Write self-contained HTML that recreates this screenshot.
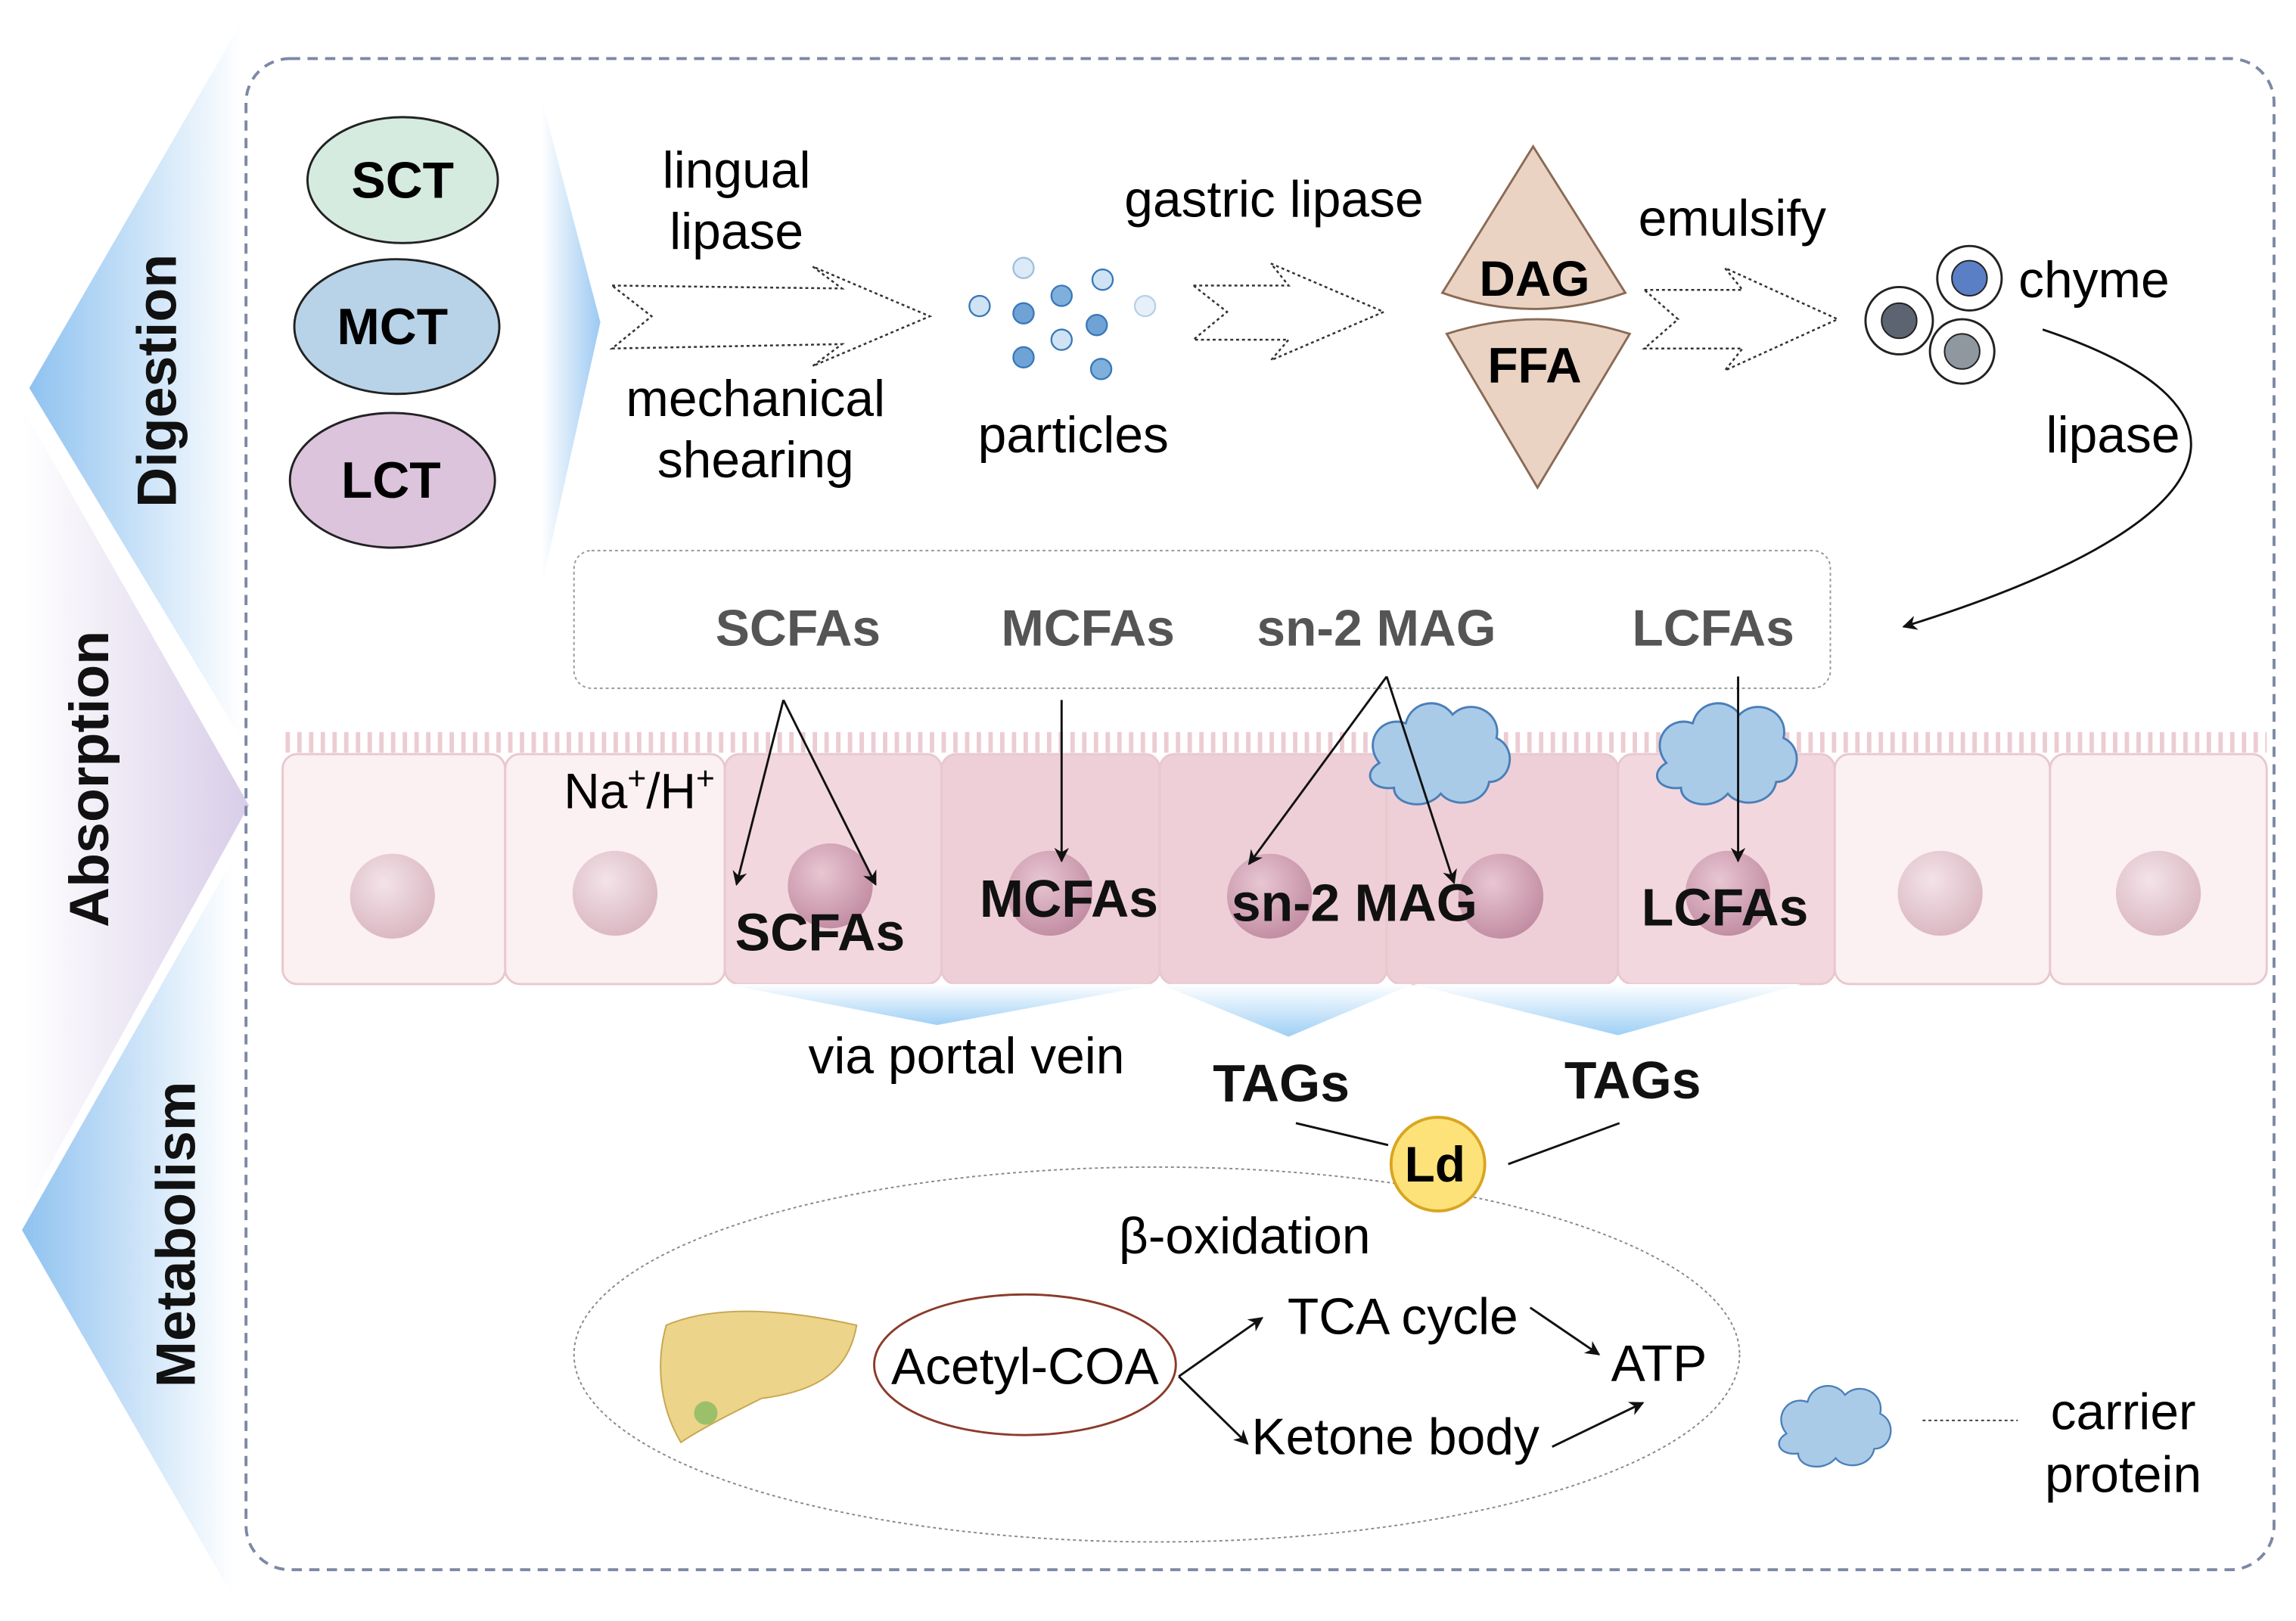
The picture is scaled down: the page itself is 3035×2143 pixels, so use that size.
<!DOCTYPE html>
<html><head><meta charset="utf-8"><style>
html,body{margin:0;padding:0;background:#fff;}
svg{display:block;}
text{font-family:"Liberation Sans",Arial,sans-serif;}
</style></head><body>
<svg width="3035" height="2143" viewBox="0 0 1568 1107" preserveAspectRatio="none" xmlns="http://www.w3.org/2000/svg">
<defs>
<linearGradient id="gb" x1="0" x2="1" y1="0" y2="0"><stop offset="0" stop-color="#8fc2f0"/><stop offset="1" stop-color="#ffffff"/></linearGradient>
<linearGradient id="gp" x1="0" x2="1" y1="0" y2="0"><stop offset="0" stop-color="#ffffff"/><stop offset="1" stop-color="#d8cde8"/></linearGradient>
<linearGradient id="gc" x1="0" x2="1"><stop offset="0" stop-color="#ffffff"/><stop offset="1" stop-color="#9cc9f2"/></linearGradient>
<linearGradient id="gv" x1="0" x2="0" y1="0" y2="1"><stop offset="0" stop-color="#ffffff"/><stop offset="1" stop-color="#9fd0f5"/></linearGradient>
<radialGradient id="nuc" cx="0.4" cy="0.35" r="0.7"><stop offset="0" stop-color="#f3e3e8"/><stop offset="1" stop-color="#d9b5c0"/></radialGradient>
<radialGradient id="nuc2" cx="0.4" cy="0.35" r="0.7"><stop offset="0" stop-color="#e8c6d2"/><stop offset="1" stop-color="#c08aa0"/></radialGradient>
<marker id="ar" markerWidth="10" markerHeight="10" refX="9" refY="5" orient="auto" markerUnits="userSpaceOnUse"><path d="M0,0 L10,5 L0,10 L3,5 z" fill="#111"/></marker>
<g id="cloud"><path d="M-40,5 C-52,-10 -38,-28 -22,-22 C-18,-38 2,-40 10,-28 C22,-40 44,-30 40,-12 C55,-5 50,18 35,18 C32,34 10,36 2,26 C-8,38 -30,34 -30,22 C-46,24 -52,12 -40,5 z" fill="#aacbe8" stroke="#4a7fb8" stroke-width="1.5"/></g>
</defs>

<polygon points="165,15 20,265 165,505" fill="url(#gb)"/>
<polygon points="15,278 170,550 15,830" fill="url(#gp)"/>
<polygon points="160,585 15,840 160,1092" fill="url(#gb)"/>
<text transform="translate(120,260) rotate(-90)" font-size="38" font-weight="bold" text-anchor="middle" fill="#111">Digestion</text>
<text transform="translate(74,532) rotate(-90)" font-size="38" font-weight="bold" text-anchor="middle" fill="#111">Absorption</text>
<text transform="translate(133,843) rotate(-90)" font-size="38" font-weight="bold" text-anchor="middle" fill="#111">Metabolism</text>

<rect x="168" y="40" width="1385" height="1032" rx="30" fill="none" stroke="#7d88a6" stroke-width="2" stroke-dasharray="7,5"/>

<ellipse cx="275" cy="123" rx="65" ry="43" fill="#d5ebdf" stroke="#222" stroke-width="1.5"/>
<text x="275" y="135" font-size="35" font-weight="bold" text-anchor="middle">SCT</text>
<ellipse cx="271" cy="223" rx="70" ry="46" fill="#b8d3e8" stroke="#222" stroke-width="1.5"/>
<text x="268" y="235" font-size="35" font-weight="bold" text-anchor="middle">MCT</text>
<ellipse cx="268" cy="328" rx="70" ry="46" fill="#dcc4dd" stroke="#222" stroke-width="1.5"/>
<text x="267" y="340" font-size="35" font-weight="bold" text-anchor="middle">LCT</text>

<polygon points="370,68 410,220 370,400" fill="url(#gc)"/>

<g fill="none" stroke="#333" stroke-width="1.3" stroke-dasharray="2,2">
<path d="M418,195 L575,197 L555,182 L635,216 L555,250 L575,235 L418,238 L445,216 z"/>
<path d="M815,195 L880,195 L868,180 L945,213 L868,246 L880,232 L815,232 L838,213 z"/>
<path d="M1123,198 L1190,198 L1178,183 L1255,218 L1178,253 L1190,238 L1123,238 L1146,218 z"/>
</g>
<g font-size="35" text-anchor="middle">
<text x="503" y="128">lingual</text>
<text x="503" y="170">lipase</text>
<text x="516" y="284">mechanical</text>
<text x="516" y="326">shearing</text>
<text x="733" y="309">particles</text>
<text x="870" y="148">gastric lipase</text>
<text x="1183" y="161">emulsify</text>
<text x="1430" y="203">chyme</text>
<text x="1443" y="309">lipase</text>
</g>

<g stroke="#3a78b8" stroke-width="1.2">
<circle cx="699" cy="183" r="7" fill="#dbeaf6" stroke="#9cc0e0"/>
<circle cx="753" cy="191" r="7" fill="#cfe3f4"/>
<circle cx="669" cy="209" r="7" fill="#cfe3f4"/>
<circle cx="725" cy="202" r="7" fill="#7fb0dc"/>
<circle cx="699" cy="214" r="7" fill="#6fa3d6"/>
<circle cx="782" cy="209" r="7" fill="#e6f0f9" stroke="#b8d0e8"/>
<circle cx="749" cy="222" r="7" fill="#6fa3d6"/>
<circle cx="725" cy="232" r="7" fill="#cfe3f4"/>
<circle cx="699" cy="244" r="7" fill="#6fa3d6"/>
<circle cx="752" cy="252" r="7" fill="#7fb0dc"/>
</g>

<path d="M1047,100 L1110,200 Q1047,222 985,200 z" fill="#ead3c3" stroke="#8a6a55" stroke-width="1.5"/>
<path d="M988,228 Q1050,208 1113,228 L1050,333 z" fill="#ead3c3" stroke="#8a6a55" stroke-width="1.5"/>
<text x="1048" y="202" font-size="34" font-weight="bold" text-anchor="middle">DAG</text>
<text x="1048" y="261" font-size="34" font-weight="bold" text-anchor="middle">FFA</text>

<circle cx="1297" cy="219" r="23" fill="#fff" stroke="#222" stroke-width="1.5"/><circle cx="1297" cy="219" r="12" fill="#5b6470" stroke="#222"/>
<circle cx="1345" cy="190" r="22" fill="#fff" stroke="#222" stroke-width="1.5"/><circle cx="1345" cy="190" r="12" fill="#5a7fc4" stroke="#222"/>
<circle cx="1340" cy="240" r="22" fill="#fff" stroke="#222" stroke-width="1.5"/><circle cx="1340" cy="240" r="12" fill="#8f979f" stroke="#222"/>
<path d="M1395,225 C1560,280 1520,360 1300,428" fill="none" stroke="#111" stroke-width="1.5" marker-end="url(#ar)"/>

<rect x="392" y="376" width="858" height="94" rx="12" fill="none" stroke="#999" stroke-width="1" stroke-dasharray="2,2"/>
<g font-size="35" font-weight="bold" fill="#555" text-anchor="middle">
<text x="545" y="441">SCFAs</text><text x="743" y="441">MCFAs</text><text x="940" y="441">sn-2 MAG</text><text x="1170" y="441">LCFAs</text>
</g>

<g stroke="#e8c8cf" stroke-width="1.5">
<rect x="193" y="515" width="152" height="157" rx="10" fill="#fbf0f2"/>
<rect x="345" y="515" width="150" height="157" rx="10" fill="#fbf0f2"/>
<rect x="495" y="515" width="148" height="157" rx="10" fill="#f2d8de"/>
<rect x="643" y="515" width="149" height="157" rx="10" fill="#efcfd7"/>
<rect x="792" y="515" width="155" height="157" rx="10" fill="#efcfd7"/>
<rect x="947" y="515" width="158" height="157" rx="10" fill="#efcfd7"/>
<rect x="1105" y="515" width="148" height="157" rx="10" fill="#f2d8de"/>
<rect x="1253" y="515" width="147" height="157" rx="10" fill="#fbf0f2"/>
<rect x="1400" y="515" width="148" height="157" rx="10" fill="#fbf0f2"/>
</g>
<path d="M195,515 L1548,515" stroke="#ecccd3" stroke-width="14" stroke-dasharray="3,5" fill="none" transform="translate(0,-8)"/>
<circle cx="268" cy="612" r="29" fill="url(#nuc)"/>
<circle cx="420" cy="610" r="29" fill="url(#nuc)"/>
<circle cx="567" cy="605" r="29" fill="url(#nuc2)"/>
<circle cx="717" cy="610" r="29" fill="url(#nuc2)"/>
<circle cx="867" cy="612" r="29" fill="url(#nuc2)"/>
<circle cx="1025" cy="612" r="29" fill="url(#nuc2)"/>
<circle cx="1180" cy="610" r="29" fill="url(#nuc2)"/>
<circle cx="1325" cy="610" r="29" fill="url(#nuc)"/>
<circle cx="1474" cy="610" r="29" fill="url(#nuc)"/>
<polygon points="495,672 792,672 640,700" fill="url(#gv)"/>
<polygon points="792,672 965,672 880,708" fill="url(#gv)"/>
<polygon points="965,672 1230,672 1105,707" fill="url(#gv)"/>

<use href="#cloud" x="982" y="516"/>
<use href="#cloud" x="1178" y="516"/>

<g stroke="#111" stroke-width="1.5" marker-end="url(#ar)">
<line x1="535" y1="478" x2="503" y2="604"/>
<line x1="535" y1="478" x2="598" y2="604"/>
<line x1="725" y1="478" x2="725" y2="588"/>
<line x1="947" y1="462" x2="853" y2="590"/>
<line x1="947" y1="462" x2="993" y2="603"/>
<line x1="1187" y1="462" x2="1187" y2="588"/>
</g>
<text x="385" y="552" font-size="34">Na<tspan font-size="22" dy="-13">+</tspan><tspan dy="13">/H</tspan><tspan font-size="22" dy="-13">+</tspan></text>
<g font-size="36" font-weight="bold" text-anchor="middle" fill="#111">
<text x="560" y="649">SCFAs</text><text x="730" y="626">MCFAs</text><text x="925" y="629">sn-2 MAG</text><text x="1178" y="632">LCFAs</text>
<text x="875" y="752">TAGs</text><text x="1115" y="750">TAGs</text>
</g>
<text x="660" y="733" font-size="35" text-anchor="middle">via portal vein</text>

<line x1="885" y1="767" x2="948" y2="782" stroke="#111" stroke-width="1.5"/>
<line x1="1030" y1="795" x2="1106" y2="767" stroke="#111" stroke-width="1.5"/>
<ellipse cx="790" cy="925" rx="398" ry="128" fill="none" stroke="#888" stroke-width="1" stroke-dasharray="2,2"/>
<circle cx="982" cy="795" r="32" fill="#fde27a" stroke="#d9a520" stroke-width="2"/>
<text x="980" y="807" font-size="34" font-weight="bold" text-anchor="middle">Ld</text>
<text x="850" y="856" font-size="35" text-anchor="middle">β-oxidation</text>

<path d="M455,905 C490,890 540,895 585,905 C580,935 560,950 520,955 C500,965 480,975 465,985 C450,960 448,930 455,905 z" fill="#ecd48a" stroke="#c8a650" stroke-width="1"/>
<circle cx="482" cy="965" r="8" fill="#9cbf6a"/>

<ellipse cx="700" cy="932" rx="103" ry="48" fill="#fff" stroke="#8b3a2a" stroke-width="1.5"/>
<text x="700" y="945" font-size="35" text-anchor="middle">Acetyl-COA</text>
<g stroke="#111" stroke-width="1.5" marker-end="url(#ar)">
<line x1="805" y1="940" x2="862" y2="900"/>
<line x1="805" y1="940" x2="852" y2="986"/>
<line x1="1045" y1="893" x2="1092" y2="925"/>
<line x1="1060" y1="988" x2="1122" y2="958"/>
</g>
<g font-size="35" text-anchor="middle">
<text x="958" y="911">TCA cycle</text>
<text x="1133" y="943">ATP</text>
<text x="953" y="993">Ketone body</text>
<text x="1450" y="976">carrier</text>
<text x="1450" y="1019">protein</text>
</g>

<g transform="translate(1252,975) scale(0.8)"><use href="#cloud"/></g>
<line x1="1313" y1="970" x2="1378" y2="970" stroke="#333" stroke-width="1" stroke-dasharray="2,2"/>
</svg>
</body></html>
